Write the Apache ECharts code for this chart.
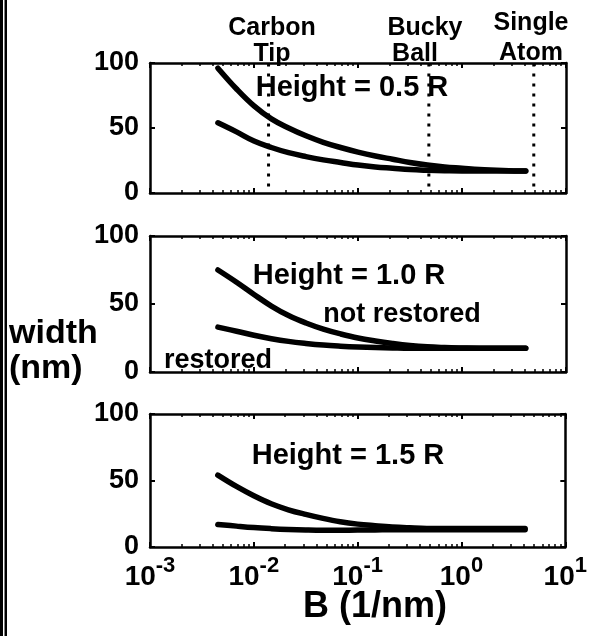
<!DOCTYPE html>
<html>
<head>
<meta charset="utf-8">
<script src="https://cdn.jsdelivr.net/npm/echarts@6/dist/echarts.min.js"></script>
<style>
  html, body { margin: 0; padding: 0; background: #fff; }
  #chart { width: 590px; height: 636px; }
</style>
</head>
<body>
<div id="chart"></div>
<script>
// Image width versus probe parameter B, for three feature heights.
const bValues = [0.0045, 0.0068, 0.01, 0.0147, 0.0215, 0.0316, 0.0464, 0.068, 0.1, 0.147,
                 0.215, 0.316, 0.464, 0.68, 1, 1.47, 2.15, 3.16, 4.1];

const notRestored05 = [96, 80, 67, 57, 50, 44, 39, 35, 31.5, 28.5, 26, 23.5, 21.5, 20, 19, 18, 17.5, 17, 17];
const restored05    = [54, 47, 40, 35, 31, 28, 25.5, 23.5, 21.5, 20, 19, 18, 17.5, 17.2, 17, 17, 17, 17, 17];

const notRestored10 = [75, 66, 57, 48.5, 41.5, 36, 31.5, 28, 25, 22.8, 21, 19.5, 18.5, 18, 17.7, 17.5, 17.5, 17.5, 17.5];
const restored10    = [33, 30, 27, 24.5, 22.5, 21, 19.8, 19, 18.4, 18, 17.7, 17.5, 17.5, 17.5, 17.5, 17.5, 17.5, 17.5, 17.5];

const notRestored15 = [54, 45.5, 38.5, 32.5, 28, 24.5, 21.5, 19, 17.2, 16, 15, 14.4, 14, 14, 14, 14, 14, 14, 14];
const restored15    = [17, 15.7, 14.6, 13.8, 13.2, 12.8, 12.6, 12.6, 12.7, 12.8, 13, 13, 13, 13, 13, 13, 13, 13, 13];

// Probe sizes marked in the top panel
const probeB = [0.0138, 0.48, 4.9];
const probeNames = [['Carbon', 'Tip'], ['Bucky', 'Ball'], ['Single', 'Atom']];

const heightLabels = ['Height = 0.5 R', 'Height = 1.0 R', 'Height = 1.5 R'];

// Axis ticks
const xMajorTicks = [0.001, 0.01, 0.1, 1, 10];
const xExponents = ['-3', '-2', '-1', '0', '1'];
const xMinorTicks = [];
[0.001, 0.01, 0.1, 1].forEach(d => { for (let k = 2; k <= 9; k++) xMinorTicks.push(+(d * k).toPrecision(3)); });
const yTicks = [0, 50, 100];

const FONT = '"Liberation Sans", Arial, Helvetica, sans-serif';

const panels = [
  { top: 63, height: 130, upper: notRestored05, lower: restored05 },
  { top: 236, height: 136, upper: notRestored10, lower: restored10 },
  { top: 414, height: 133, upper: notRestored15, lower: restored15 }
];

const grid = [], xAxis = [], yAxis = [], series = [];

panels.forEach((p, i) => {
  grid.push({ left: 150, width: 416, top: p.top, height: p.height, containLabel: false });
  const isBottom = i === panels.length - 1;
  const lineStyle = { color: '#000', width: 2.5 };
  const baseX = {
    type: 'log', logBase: 10, min: 0.001, max: 10, gridIndex: i,
    splitLine: { show: false }, minorTick: { show: false }, minorSplitLine: { show: false }
  };
  // bottom, major ticks (with labels on last panel)
  xAxis.push(Object.assign({}, baseX, {
    position: 'bottom',
    axisLine: { show: true, lineStyle },
    axisTick: { show: true, inside: true, length: 5, lineStyle: { color: '#000', width: 2 }, customValues: xMajorTicks },
    axisLabel: isBottom ? {
      show: true, margin: 8,
      customValues: xMajorTicks,
      formatter: v => {
        const idx = xMajorTicks.findIndex(t => Math.abs(Math.log10(t) - Math.log10(v)) < 1e-6);
        return '{b|10}{s|' + xExponents[idx] + '}';
      },
      rich: {
        b: { fontFamily: FONT, fontWeight: 'bold', fontSize: 28, color: '#000', verticalAlign: 'bottom', lineHeight: 36 },
        s: { fontFamily: FONT, fontWeight: 'bold', fontSize: 22, color: '#000', verticalAlign: 'top', lineHeight: 36 }
      }
    } : { show: false }
  }));
  // bottom minor ticks
  xAxis.push(Object.assign({}, baseX, {
    position: 'bottom',
    axisLine: { show: false },
    axisTick: { show: true, inside: true, length: 3, lineStyle: { color: '#000', width: 1.5 }, customValues: xMinorTicks },
    axisLabel: { show: false }
  }));
  // top major + minor ticks (box)
  xAxis.push(Object.assign({}, baseX, {
    position: 'top',
    axisLine: { show: true, lineStyle },
    axisTick: { show: true, inside: true, length: 5, lineStyle: { color: '#000', width: 2 }, customValues: xMajorTicks },
    axisLabel: { show: false }
  }));
  xAxis.push(Object.assign({}, baseX, {
    position: 'top',
    axisLine: { show: false },
    axisTick: { show: true, inside: true, length: 3, lineStyle: { color: '#000', width: 1.5 }, customValues: xMinorTicks },
    axisLabel: { show: false }
  }));

  const baseY = { type: 'value', min: 0, max: 100, interval: 50, gridIndex: i, splitLine: { show: false } };
  yAxis.push(Object.assign({}, baseY, {
    position: 'left',
    axisLine: { show: true, lineStyle },
    axisTick: { show: true, inside: true, length: 5, lineStyle: { color: '#000', width: 2 } },
    axisLabel: { show: true, margin: 11, fontFamily: FONT, fontWeight: 'bold', fontSize: 27, color: '#000',
                 customValues: yTicks }
  }));
  yAxis.push(Object.assign({}, baseY, {
    position: 'right',
    axisLine: { show: true, lineStyle },
    axisTick: { show: true, inside: true, length: 5, lineStyle: { color: '#000', width: 2 } },
    axisLabel: { show: false }
  }));

  const xi = i * 4, yi = i * 2;
  const curve = {
    type: 'line', xAxisIndex: xi, yAxisIndex: yi,
    smooth: 0.4, showSymbol: false, symbol: 'none',
    lineStyle: { color: '#000', width: 5.5, cap: 'round', join: 'round' }, z: 3
  };
  series.push(Object.assign({}, curve, {
    name: 'not restored ' + i, data: bValues.map((b, k) => [b, p.upper[k]])
  }));
  series.push(Object.assign({}, curve, {
    name: 'restored ' + i, data: bValues.map((b, k) => [b, p.lower[k]])
  }));
});

// Dotted markers for probe sizes in the top panel
probeB.forEach((b, k) => {
  series.push({
    name: 'probe ' + k, type: 'line', xAxisIndex: 0, yAxisIndex: 0,
    data: [[b, 5], [b, 100]], showSymbol: false, symbol: 'none',
    lineStyle: { color: '#000', width: 3, type: [3, 7] }, z: 4
  });
});

function txt(text, x, y, size, align) {
  return {
    type: 'text', x: x, y: y, z: 100,
    style: {
      text: text, fill: '#000', align: align || 'center', verticalAlign: 'middle',
      font: 'bold ' + size + 'px ' + FONT
    }
  };
}

const graphic = [
  // double frame line down the left side
  { type: 'rect', shape: { x: 0, y: 0, width: 3, height: 636 }, style: { fill: '#000' }, z: 100 },
  { type: 'rect', shape: { x: 4.5, y: 0, width: 2.5, height: 636 }, style: { fill: '#000' }, z: 100 },
  txt(probeNames[0][0], 272, 28, 25), txt(probeNames[0][1], 272, 54, 25),
  txt(probeNames[1][0], 425, 28, 25), txt(probeNames[1][1], 415, 54, 25),
  txt(probeNames[2][0], 531, 23, 25), txt(probeNames[2][1], 531, 53, 25),
  txt(heightLabels[0], 352, 88, 29),
  txt(heightLabels[1], 349, 276, 29),
  txt(heightLabels[2], 348, 456, 29),
  txt('not restored', 402, 315, 27),
  txt('restored', 218, 361, 27),
  txt('width', 9, 334, 34, 'left'),
  txt('(nm)', 9, 369, 34, 'left'),
  txt('B (1/nm)', 375, 607, 36)
];

const chart = echarts.init(document.getElementById('chart'), null, { renderer: 'canvas' });
chart.setOption({
  animation: false,
  backgroundColor: '#fff',
  grid, xAxis, yAxis, series, graphic
});
</script>
</body>
</html>
